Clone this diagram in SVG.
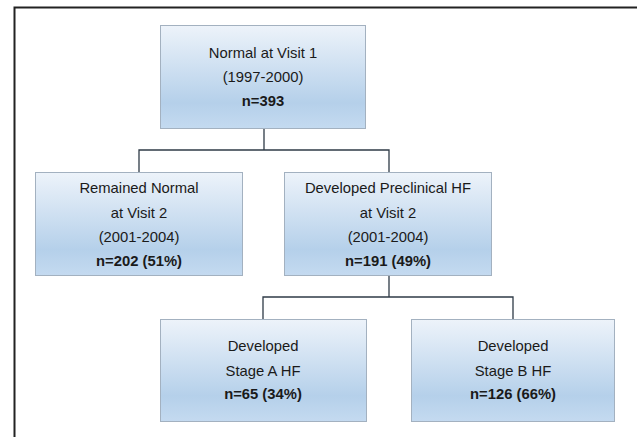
<svg xmlns="http://www.w3.org/2000/svg" width="637" height="437" viewBox="0 0 637 437">
<defs>
<linearGradient id="g" x1="0" y1="0" x2="0" y2="1">
<stop offset="0" stop-color="#edf3fa"/>
<stop offset="0.75" stop-color="#b5d0ea"/>
<stop offset="1" stop-color="#c4daf0"/>
</linearGradient>
</defs>
<style>
.box{fill:url(#g);stroke:#a3b1c0;stroke-width:1}
.t{font-family:"Liberation Sans",Arial,sans-serif;font-size:14.8px;fill:#1a1a1a;text-anchor:middle}
.b{font-weight:bold}
.c{fill:none;stroke:#2f3b47;stroke-width:1.3}
</style>
<rect width="637" height="437" fill="#fff"/>
<path d="M14.5,437 V7.5 H637" fill="none" stroke="#222" stroke-width="2"/>
<g id="connectors">
<path class="c" d="M264,129 V150 M139,172 V150 H389 V172"/>
<path class="c" d="M389,276 V297 M263,319 V297 H513 V319"/>
</g>
<g id="n1">
<rect class="box" x="160.5" y="25.5" width="205" height="103"/>
<text class="t" x="263" y="58">Normal at Visit 1</text>
<text class="t" x="263" y="82">(1997-2000)</text>
<text class="t b" x="263" y="106">n=393</text>
</g>
<g id="n2">
<rect class="box" x="35.5" y="172.5" width="207" height="103"/>
<text class="t" x="139" y="193">Remained Normal</text>
<text class="t" x="139" y="218">at Visit 2</text>
<text class="t" x="139" y="242">(2001-2004)</text>
<text class="t b" x="139" y="266">n=202 (51%)</text>
</g>
<g id="n3">
<rect class="box" x="284.5" y="172.5" width="207" height="103"/>
<text class="t" x="388" y="193">Developed Preclinical HF</text>
<text class="t" x="388" y="218">at Visit 2</text>
<text class="t" x="388" y="242">(2001-2004)</text>
<text class="t b" x="388" y="266">n=191 (49%)</text>
</g>
<g id="n4">
<rect class="box" x="160.5" y="319.5" width="206" height="102"/>
<text class="t" x="263" y="351">Developed</text>
<text class="t" x="263" y="376">Stage A HF</text>
<text class="t b" x="263" y="399">n=65 (34%)</text>
</g>
<g id="n5">
<rect class="box" x="411.5" y="319.5" width="203" height="102"/>
<text class="t" x="513" y="351">Developed</text>
<text class="t" x="513" y="376">Stage B HF</text>
<text class="t b" x="513" y="399">n=126 (66%)</text>
</g>
</svg>
